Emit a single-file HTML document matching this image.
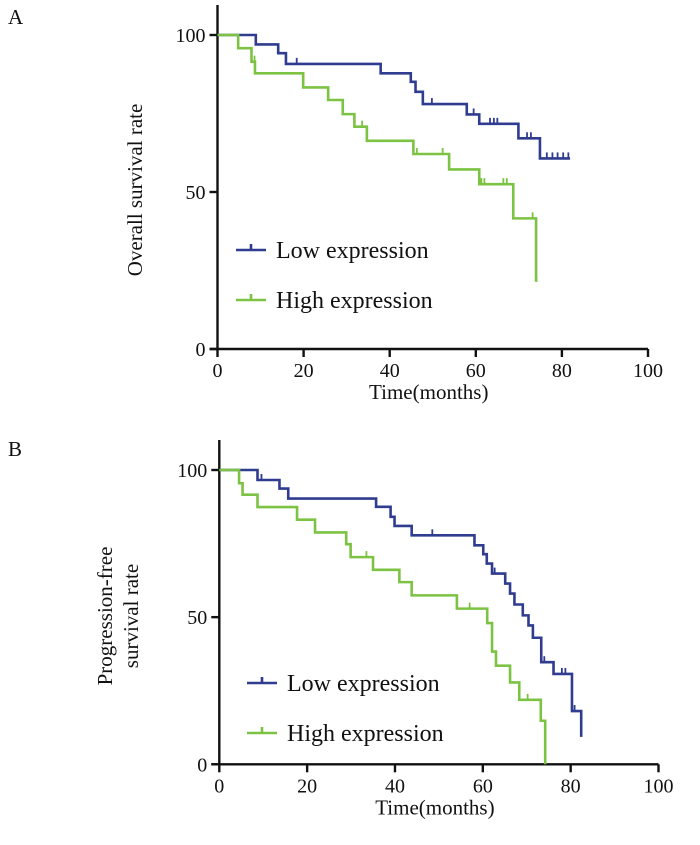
<!DOCTYPE html>
<html><head><meta charset="utf-8"><style>
body{margin:0;background:#fff;}
svg text{font-family:"Liberation Serif",serif;fill:#111;}
</style></head><body>
<svg id="c" width="700" height="840" viewBox="0 0 700 840"></svg>
<script>
const xTicks=[0,20,40,60,80,100];
const yTicks=[0,50,100];
// Panel A (overall survival)
const aLowT=[0,8.9,14.1,15.9,37.9,44.9,46.0,47.7,57.9,60.8,69.9,74.9,81.9];
const aLowS=[100,97.0,94.2,90.8,87.8,85.1,81.9,78.0,74.7,71.7,67.1,60.7,60.7];
const aLowCens=[18.4,49.8,59.5,63.3,64.2,65.0,71.9,72.8,76.5,77.8,79.0,80.3,81.5];
const aHighT=[0,4.8,7.9,8.7,19.9,25.7,29.1,31.8,34.7,45.5,53.8,60.8,68.7,74.0];
const aHighS=[100,95.8,91.5,87.8,83.3,79.3,74.8,70.8,66.3,62.1,57.2,52.5,41.6,21.4];
const aHighCens=[8.6,33.6,46.3,52.3,61.3,62.0,66.4,67.2,73.2,74.1];
// Panel B (progression-free survival)
const bLowT=[0,8.7,13.7,15.7,35.7,39.0,39.9,43.8,58.1,60.1,60.9,62.1,65.1,66.2,67.2,69.1,70.4,71.4,73.3,76.1,80.3,82.4];
const bLowS=[100,96.6,93.7,90.3,87.5,84.1,81.0,77.8,74.4,71.4,68.2,64.8,61.4,58.0,54.3,50.6,47.2,43.0,34.7,30.7,18.1,9.3];
const bLowCens=[9.6,48.5,62.7,74.0,78.0,78.8,80.9];
const bHighT=[0,4.5,5.3,8.7,17.7,21.8,28.9,29.9,35.0,41.0,43.8,54.1,61.0,62.1,63.0,66.2,68.3,73.2,74.2];
const bHighS=[100,95.5,91.6,87.4,83.1,78.8,74.8,70.4,66.1,61.9,57.4,52.9,48.0,38.3,33.5,27.8,21.9,14.8,0];
const bHighCens=[33.5,57.0,70.2];

const NS="http://www.w3.org/2000/svg";
const svg=document.getElementById('c');
const BLUE="#2f3c8f",GREEN="#7cc243";
function mk(tag,attrs,parent){const e=document.createElementNS(NS,tag);for(const k in attrs)e.setAttribute(k,attrs[k]);(parent||svg).appendChild(e);return e;}

function panel(p){
  const g=mk('g',{});
  
  
  const X=t=>p.x0+(p.x1-p.x0)*t/100;
  const Y=s=>p.y0-(p.y0-p.y1)*s/100;
  // axes
  const ax=mk('path',{d:`M${X(0)} ${p.y1-30}V${p.y0}M${X(0)-8} ${p.y0}H${X(100)}`,stroke:'#111','stroke-width':2.4,fill:'none'},g);
  
  
  xTicks.forEach(v=>{
    const t=mk('line',{x1:X(v),x2:X(v),y1:p.y0,y2:p.y0+8,stroke:'#111','stroke-width':2.4},g);
    
    
    const l=mk('text',{x:X(v),y:p.y0+28,'text-anchor':'middle','font-size':20},g);
    
    
    l.textContent=v;
  });
  yTicks.forEach(v=>{
    const t=mk('line',{x1:X(0)-8,x2:X(0),y1:Y(v),y2:Y(v),stroke:'#111','stroke-width':2.4},g);
    
    
    const l=mk('text',{x:X(0)-12,y:Y(v)+7,'text-anchor':'end','font-size':20},g);
    
    
    l.textContent=v;
  });
  function series(T,S,C,col,nm){
    let d=`M${X(T[0])} ${Y(S[0])}`;
    for(let i=1;i<T.length;i++){d+=`H${X(T[i])}V${Y(S[i])}`;}
    const path=mk('path',{d,stroke:col,'stroke-width':2.6,fill:'none'},g);
    
    
    C.forEach(c=>{
      let s=S[0];for(let i=0;i<T.length;i++){if(T[i]<=c)s=S[i];}
      const m=mk('line',{x1:X(c),x2:X(c),y1:Y(s),y2:Y(s)-6,stroke:col,'stroke-width':1.8},g);
      
      
    });
  }
  series(p.lowT,p.lowS,p.lowC,BLUE,'low-expression');
  series(p.highT,p.highS,p.highC,GREEN,'high-expression');
  // legend
  [[BLUE,'Low expression',p.ly],[GREEN,'High expression',p.ly+50]].forEach(([col,txt,y],i)=>{
    const ln=mk('path',{d:`M${p.lx} ${y}H${p.lx+30}M${p.lx+15} ${y}v-6`,stroke:col,'stroke-width':2.6,fill:'none'},g);
    
    
    const tx=mk('text',{x:p.lx+40,y:y+8,'font-size':24},g);
    
    
    tx.textContent=txt;
  });
  const lab=mk('text',{x:8,y:p.labY,'font-size':21},g);
  
  
  lab.textContent=p.label;
  const xt=mk('text',{x:(X(0)+X(100))/2-4,y:p.y0+50,'text-anchor':'middle','font-size':21},g);
  
  
  xt.textContent='Time(months)';
  p.ytitle.forEach((line,i)=>{
    const yt=mk('text',{x:0,y:0,'text-anchor':'middle','font-size':21,transform:`translate(${p.ytx+i*26},${p.yty}) rotate(-90)`},g);
    
    
    yt.textContent=line;
  });
}
panel({name:'panel-a-overall-survival',label:'A',labY:24,x0:217.5,x1:648,y0:349,y1:35,
  lowT:aLowT,lowS:aLowS,lowC:aLowCens,highT:aHighT,highS:aHighS,highC:aHighCens,
  lx:236,ly:250,ytitle:['Overall survival rate'],ytx:142,yty:190});
panel({name:'panel-b-progression-free-survival',label:'B',labY:456,x0:219.3,x1:658.5,y0:764.3,y1:470,
  lowT:bLowT,lowS:bLowS,lowC:bLowCens,highT:bHighT,highS:bHighS,highC:bHighCens,
  lx:247,ly:683,ytitle:['Progression-free','survival rate'],ytx:112,yty:616});
</script>
</body></html>
